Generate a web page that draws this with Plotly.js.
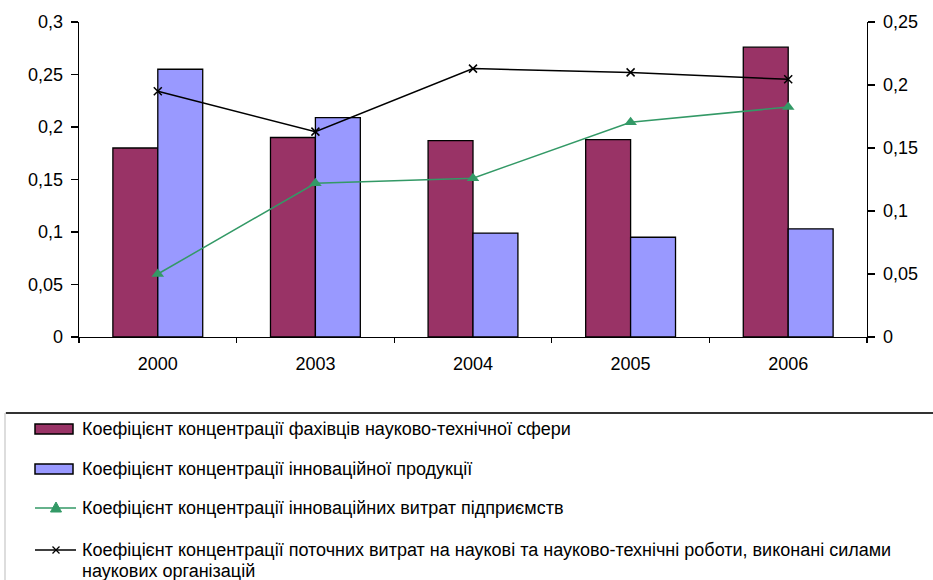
<!DOCTYPE html>
<html>
<head>
<meta charset="utf-8">
<script src="https://cdn.plot.ly/plotly-3.0.1.min.js"></script>
<style>html,body{margin:0;padding:0;background:#fff;}#chart{width:933px;height:580px;}</style>
</head>
<body>
<div id="chart"></div>
<script>
const years = ['2000', '2003', '2004', '2005', '2006'];
const specialists = [0.180, 0.190, 0.187, 0.188, 0.276];
const innovProduct = [0.255, 0.209, 0.099, 0.095, 0.103];
const innovCosts = [0.050, 0.122, 0.126, 0.1705, 0.1825];
const currentCosts = [0.195, 0.163, 0.213, 0.210, 0.2045];
const leftTicks = [0, 0.05, 0.1, 0.15, 0.2, 0.25, 0.3];
const leftLabels = ['0', '0,05', '0,1', '0,15', '0,2', '0,25', '0,3'];
const rightTicks = [0, 0.05, 0.1, 0.15, 0.2, 0.25];
const rightLabels = ['0', '0,05', '0,1', '0,15', '0,2', '0,25'];
const names = [
  'Коефіцієнт концентрації фахівців науково-технічної сфери',
  'Коефіцієнт концентрації інноваційної продукції',
  'Коефіцієнт концентрації інноваційних витрат підприємств',
  'Коефіцієнт концентрації поточних витрат на наукові та науково-технічні роботи, виконані силами',
  'наукових організацій'
];

const W = 933, H = 580, L = 79, R = 867, T = 22, B = 337;
const px = x => (x - L) / (R - L);
const py = y => (B - y) / (B - T);

const FONT = 'Liberation Sans, Arial, sans-serif';

const data = [
  {type: 'bar', x: years, y: specialists, name: names[0], marker: {color: '#993366', line: {color: '#000', width: 1.3}}, yaxis: 'y'},
  {type: 'bar', x: years, y: innovProduct, name: names[1], marker: {color: '#9999FF', line: {color: '#000', width: 1.3}}, yaxis: 'y'},
  {type: 'scatter', mode: 'lines+markers', x: years, y: innovCosts, name: names[2], yaxis: 'y2',
   line: {color: '#339966', width: 1.5}, marker: {symbol: 'triangle-up', size: 11, color: '#339966'}},
  {type: 'scatter', mode: 'lines+markers', x: years, y: currentCosts, name: names[3], yaxis: 'y2',
   line: {color: '#000', width: 1.5}, marker: {symbol: 'x-thin', size: 8, line: {color: '#000', width: 1.5}}}
];

// legend drawn manually
const shapes = [];
const annotations = [];
shapes.push({type: 'rect', xref: 'paper', yref: 'paper', x0: px(5), x1: px(945), y0: py(413), y1: py(600), line: {color: '#bbb', width: 1}, fillcolor: 'rgba(0,0,0,0)', layer: 'below'});
shapes.push({type: 'line', xref: 'paper', yref: 'paper', x0: px(6), x1: px(945), y0: py(413), y1: py(413), line: {color: '#333', width: 2}});
const rows = [429, 469, 508, 550];
shapes.push({type: 'rect', xref: 'paper', yref: 'paper', x0: px(35), x1: px(73), y0: py(rows[0] - 5), y1: py(rows[0] + 5), fillcolor: '#993366', line: {color: '#000', width: 1.5}});
shapes.push({type: 'rect', xref: 'paper', yref: 'paper', x0: px(35), x1: px(73), y0: py(rows[1] - 5), y1: py(rows[1] + 5), fillcolor: '#9999FF', line: {color: '#000', width: 1.5}});
shapes.push({type: 'line', xref: 'paper', yref: 'paper', x0: px(35), x1: px(76), y0: py(rows[2]), y1: py(rows[2]), line: {color: '#339966', width: 1.5}});
shapes.push({type: 'path', xref: 'paper', yref: 'paper',
  path: `M ${px(56)} ${py(rows[2] - 6)} L ${px(61.5)} ${py(rows[2] + 4)} L ${px(50.5)} ${py(rows[2] + 4)} Z`,
  fillcolor: '#339966', line: {color: '#339966', width: 1}});
shapes.push({type: 'line', xref: 'paper', yref: 'paper', x0: px(35), x1: px(76), y0: py(rows[3]), y1: py(rows[3]), line: {color: '#000', width: 1.5}});
shapes.push({type: 'path', xref: 'paper', yref: 'paper',
  path: `M ${px(52.5)} ${py(rows[3] - 3.5)} L ${px(59.5)} ${py(rows[3] + 3.5)} M ${px(52.5)} ${py(rows[3] + 3.5)} L ${px(59.5)} ${py(rows[3] - 3.5)}`,
  line: {color: '#000', width: 1.3}});
const textRows = [rows[0], rows[1], rows[2], rows[3], 571];
for (let i = 0; i < names.length; i++) {
  annotations.push({xref: 'paper', yref: 'paper', x: px(80), y: py(textRows[i]), xanchor: 'left', yanchor: 'middle',
    text: names[i], showarrow: false, font: {family: FONT, size: 18, color: '#000'}});
}

const layout = {
  width: W, height: H,
  margin: {l: L, r: W - R, t: T, b: H - B, pad: 0},
  paper_bgcolor: '#fff', plot_bgcolor: '#fff',
  barmode: 'group', bargap: 0.43, bargroupgap: 0,
  showlegend: false,
  font: {family: FONT, size: 18, color: '#000'},
  xaxis: {type: 'category', showline: true, linecolor: '#000', linewidth: 1.3, ticks: 'outside', ticklen: 5, tickcolor: '#000', tickwidth: 1.3,
    tickson: 'boundaries', showgrid: false, zeroline: false, tickfont: {size: 18}, ticklabelstandoff: 10},
  yaxis: {range: [0, 0.3], tickvals: leftTicks, ticktext: leftLabels, showline: true, linecolor: '#000', linewidth: 1.3,
    ticks: 'outside', ticklen: 7, tickcolor: '#000', tickwidth: 1.3, showgrid: false, zeroline: false, tickfont: {size: 18}, ticklabelstandoff: 4},
  yaxis2: {range: [0, 0.25], tickvals: rightTicks, ticktext: rightLabels, overlaying: 'y', side: 'right', showline: true, linecolor: '#000', linewidth: 1.3,
    ticks: 'outside', ticklen: 7, tickcolor: '#000', tickwidth: 1.3, showgrid: false, zeroline: false, tickfont: {size: 18}, ticklabelstandoff: 4},
  shapes: shapes,
  annotations: annotations
};

Plotly.newPlot('chart', data, layout, {displayModeBar: false, staticPlot: true});
</script>
</body>
</html>
